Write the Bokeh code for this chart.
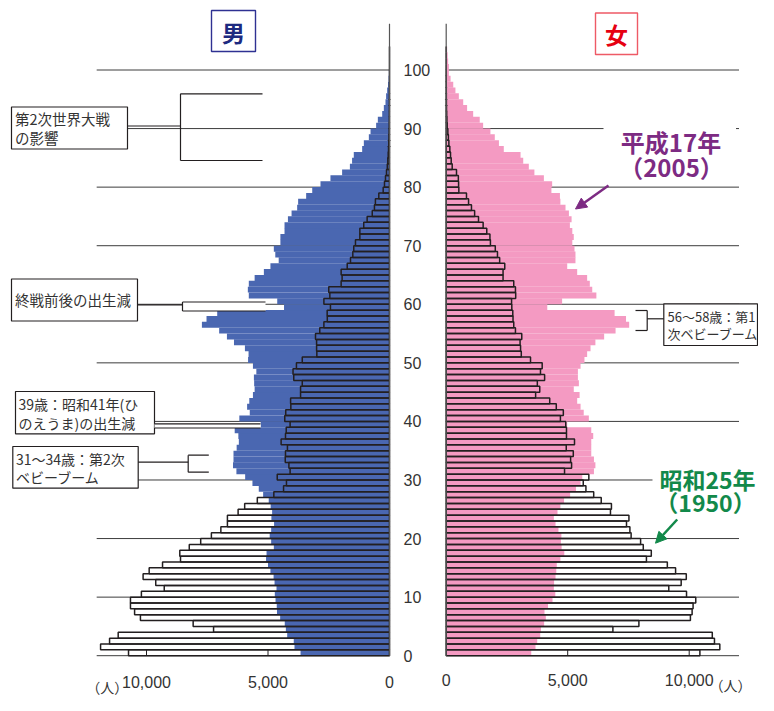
from bokeh.plotting import figure
from bokeh.models import Range1d, ColumnDataSource, Arrow, NormalHead
from bokeh.core.properties import value
from bokeh.embed import file_html
from bokeh.resources import INLINE

# ---------------- data (people by single year of age, 0..103) ----------------
ages = list(range(104))

male_1950 = [10740, 11890, 11520, 11165, 7240, 8080, 10250, 10490, 10660, 10660,
             10210, 9270, 9620, 10140, 9890, 9340, 8600, 8630, 8240, 7770,
             7330, 6940, 6670, 6670, 6230, 5960, 5440, 4760, 4360, 4240,
             4620, 4090, 4140, 4290, 4280, 4200, 4460, 4280, 4250, 4090,
             4310, 4270, 4060, 4070, 3660, 3660, 3590, 3940, 3970, 3830,
             3590, 2990, 3000, 3000, 3045, 2870, 2700, 2560, 2565, 2430,
             2700, 2455, 2500, 1990, 1950, 1990, 1740, 1605, 1510, 1470,
             1400, 1220, 1220, 1060, 920, 710, 620, 580, 440, 260,
             206, 165, 123, 90, 70, 53, 40, 30, 22, 15,
             10, 7, 5, 3, 2, 1, 0, 0, 0, 0,
             0, 0, 0, 0]

male_2005 = [3660, 3910, 3940, 4210, 4265, 4310, 4500, 4630, 4640, 4690,
             4720, 4650, 4730, 4770, 4900, 5000, 5080, 5060, 4760, 4870,
             4930, 4870, 4750, 4860, 4830, 4890, 4970, 5200, 5380, 5640,
             5940, 6300, 6440, 6420, 6420, 6290, 6200, 6220, 6370, 5300,
             6180, 5750, 5860, 5770, 5620, 5550, 5570, 5580, 5480, 5620,
             5820, 5800, 5950, 6400, 6690, 7010, 7720, 7530, 7090, 4340,
             4620, 5790, 5830, 5790, 5550, 5170, 4900, 4560, 4700, 4760,
             4490, 4490, 4320, 4320, 4180, 4030, 3800, 3760, 3430, 3180,
             2840, 2430, 1950, 1630, 1540, 1470, 1125, 1056, 850, 780,
             550, 480, 300, 233, 165, 140, 96, 60, 40, 25,
             12, 0, 0, 0]

female_1950 = [10440, 11260, 11040, 10950, 6860, 7930, 10050, 10120, 10160, 10270,
               9890, 9160, 9670, 9880, 9440, 9100, 8240, 8440, 8110, 8000,
               7610, 7560, 7420, 7520, 6760, 6800, 6380, 6070, 5750, 5640,
               5870, 4870, 5160, 5120, 5230, 4940, 5280, 4950, 4950, 4920,
               4700, 4820, 4530, 4260, 3680, 3850, 3750, 4050, 3880, 3950,
               3470, 3090, 3060, 3040, 3110, 2850, 2780, 2750, 2740, 2700,
               2690, 2860, 2850, 2780, 2340, 2340, 2410, 2200, 2110, 2020,
               1820, 1800, 1670, 1520, 1330, 1170, 1040, 920, 835, 520,
               510, 500, 424, 247, 206, 178, 150, 110, 90, 68,
               41, 30, 20, 12, 8, 5, 3, 2, 1, 1,
               0, 0, 0, 0]

female_2005 = [3500, 3675, 3745, 3870, 3900, 4030, 4100, 4045, 4190, 4375,
               4490, 4430, 4440, 4500, 4530, 4550, 4700, 4860, 4750, 4720,
               4740, 4620, 4500, 4430, 4580, 4700, 4850, 5100, 5340, 5530,
               5600, 6080, 6140, 6080, 5970, 5970, 5970, 6050, 5970, 4980,
               5870, 5660, 5530, 5390, 5490, 5250, 5460, 5420, 5420, 5530,
               5690, 5800, 5940, 6140, 6500, 6970, 7530, 7400, 6930, 4160,
               4770, 6180, 6010, 5910, 5800, 5390, 4980, 5320, 5320, 5280,
               5190, 5250, 5190, 5090, 5160, 5050, 4910, 4700, 4680, 4330,
               4360, 4020, 3630, 3400, 3170, 3060, 2370, 2170, 2000, 1820,
               1520, 1380, 1110, 860, 700, 520, 380, 290, 180, 110,
               110, 80, 60, 40]

x_ticks = [0, 5000, 10000]
x_tick_labels = ["0", "5,000", "10,000"]
age_ticks = [0, 10, 20, 30, 40, 50, 60, 70, 80, 90, 100]
age_tick_labels = [str(a) for a in age_ticks]
x_max = 12050

# ---------------- layout helpers (screen position -> data) ----------------
C, S = 417.35, 0.0243          # centre pixel, pixels per person
Y0, K = 655.2, 5.857           # pixel of age 0, pixels per year
W, H = 758, 695
def X(px):
    return (px - C) / S
def Y(py):
    return (Y0 - py) / K
G = X(445.7)                   # half gap between the two halves

BLUE = "#4A67B1"
PINK = "#F49AC2"
INK = "#231F20"
GRID = "#3C3C3C"
PURPLE = "#7D2B83"
GREEN = "#12894A"
JP = value("Noto Sans CJK JP")
NUM = value("Liberation Sans")

p = figure(width=W, height=H, output_backend="svg", toolbar_location=None,
           x_range=Range1d(X(0), X(W)), y_range=Range1d(Y(H), Y(0)),
           x_axis_type=None, y_axis_type=None, min_border=0)
p.outline_line_color = None
p.background_fill_color = "white"
p.border_fill_color = "white"

# grid lines every 10 years
p.segment(x0=[-G - x_max] * len(age_ticks), x1=[-G] * len(age_ticks), y0=age_ticks, y1=age_ticks,
          line_color=GRID, line_width=1)
p.segment(x0=[G] * len(age_ticks), x1=[G + x_max] * len(age_ticks), y0=age_ticks, y1=age_ticks,
          line_color=GRID, line_width=1)

yc = [a + 0.5 for a in ages]
src = ColumnDataSource(dict(
    y=yc,
    m50l=[-G - v for v in male_1950], m05l=[-G - v for v in male_2005],
    f50r=[G + v for v in female_1950], f05r=[G + v for v in female_2005],
    ml=[-G] * len(ages), fr=[G] * len(ages)))

# 1950 fill (white), then 2005 filled bars, then 1950 outlines on top
p.hbar(y="y", left="m50l", right="ml", height=1, source=src, fill_color="white", line_color=None)
p.hbar(y="y", left="fr", right="f50r", height=1, source=src, fill_color="white", line_color=None)
p.hbar(y="y", left="m05l", right="ml", height=1.02, source=src, fill_color=BLUE, line_color=None)
p.hbar(y="y", left="fr", right="f05r", height=1.02, source=src, fill_color=PINK, line_color=None)
p.hbar(y="y", left="m50l", right="ml", height=1, source=src, fill_alpha=0, line_color=INK, line_width=1.5)
p.hbar(y="y", left="fr", right="f50r", height=1, source=src, fill_alpha=0, line_color=INK, line_width=1.5)

# vertical axes
p.segment(x0=[-G, G], x1=[-G, G], y0=[0, 0], y1=[Y(23.3), Y(23.3)], line_color="#555555", line_width=1.2)
# small inner ticks on the bottom
tk = [t for t in x_ticks if t > 0]
p.segment(x0=[-G - t for t in tk] + [G + t for t in tk], x1=[-G - t for t in tk] + [G + t for t in tk],
          y0=[0] * 4, y1=[1] * 4, line_color=INK, line_width=1)

# tick labels
p.text(x=[-G - t for t in x_ticks], y=[Y(681)] * 3, text=x_tick_labels, text_align="center",
       text_baseline="middle", text_font=NUM, text_font_size=value("16px"), text_color="#333333")
p.text(x=[G + t for t in x_ticks], y=[Y(679.5)] * 3, text=x_tick_labels, text_align="center",
       text_baseline="middle", text_font=NUM, text_font_size=value("16px"), text_color="#333333")
p.text(x=[X(403)] * len(age_ticks), y=age_ticks, text=age_tick_labels, text_align="left",
       text_baseline="middle", text_font=NUM, text_font_size=value("16px"), text_color="#333333")
p.text(x=[X(106.7), X(730)], y=[Y(686), Y(684)], text=["（人）", "（人）"], text_align="center",
       text_baseline="middle", text_font=JP, text_font_size=value("14px"), text_color="#333333")

# title boxes
p.quad(left=[X(211)], right=[X(255)], top=[Y(10)], bottom=[Y(51)], fill_color="white",
       line_color="#2E3192", line_width=1.4)
p.text(x=[X(233)], y=[Y(31)], text=["男"], text_align="center", text_baseline="middle",
       text_font=JP, text_font_style="bold", text_font_size=value("23px"), text_color="#1D2A80")
p.quad(left=[X(595)], right=[X(637)], top=[Y(12.5)], bottom=[Y(54)], fill_color="white",
       line_color="#EE5A66", line_width=1.4)
p.text(x=[X(616)], y=[Y(33)], text=["女"], text_align="center", text_baseline="middle",
       text_font=JP, text_font_style="bold", text_font_size=value("23px"), text_color="#E60012")

# ---------------- annotations ----------------
def box(l, r, t, b):
    p.quad(left=[X(l)], right=[X(r)], top=[Y(t)], bottom=[Y(b)], fill_color="white",
           line_color=INK, line_width=1.2)

def lines(pts):
    p.segment(x0=[X(a[0]) for a in pts], y0=[Y(a[1]) for a in pts],
              x1=[X(a[2]) for a in pts], y1=[Y(a[3]) for a in pts], line_color=INK, line_width=1.2)

def label(px, py, txt, size="14.5px"):
    p.text(x=[X(px)], y=[Y(py)], text=[txt], text_align="left", text_baseline="middle",
           text_font=JP, text_font_size=value(size), text_color="#333333")

# WWII
box(11, 127, 106.5, 148.5)
label(14.5, 118, "第2次世界大戦")
label(14.5, 137, "の影響")
lines([(127, 125.5, 180, 125.5), (180, 93.3, 180, 160), (180, 93.3, 262, 93.3), (180, 160, 262, 160)])

# 終戦前後
box(11, 137, 278.5, 320.5)
label(14.5, 299, "終戦前後の出生減")
p.quad(left=[X(182)], right=[X(265)], top=[Y(301.5)], bottom=[Y(310.5)], fill_color="white", line_color=None)
lines([(137, 304.3, 182, 304.3), (182, 301.5, 265, 301.5), (182, 310.5, 265, 310.5), (182, 301.5, 182, 310.5)])

# ひのえうま
box(15, 154, 391, 433.3)
label(18, 403, "39歳：昭和41年(ひ", "14px")
label(18, 422, "のえうま)の出生減", "14px")
p.quad(left=[X(154)], right=[X(260)], top=[Y(423.3)], bottom=[Y(427.5)], fill_color="white", line_color=None)
lines([(154, 423.3, 260, 423.3), (154, 427.5, 260, 427.5)])

# 第2次ベビーブーム
box(12.3, 137.7, 446, 487.7)
label(15.5, 458, "31～34歳：第2次", "14px")
label(15.5, 476, "ベビーブーム", "14px")
lines([(137.7, 461.7, 187.7, 461.7), (187.7, 454.7, 187.7, 471.7),
       (187.7, 454.7, 208.3, 454.7), (187.7, 471.7, 208.3, 471.7)])

# 第1次ベビーブーム
box(663.3, 757, 303.3, 345)
label(667, 316, "56～58歳：第1", "13px")
label(667, 333, "次ベビーブーム", "13px")
lines([(635, 310, 646.7, 310), (646.7, 310, 646.7, 330), (635, 330, 646.7, 330), (646.7, 318.3, 663.3, 318.3)])

# year labels with white backing
p.quad(left=[X(603), X(652)], right=[X(735.5), X(W)], top=[Y(126.5), Y(465)], bottom=[Y(181), Y(513)],
       fill_color="white", line_color=None)
p.text(x=[X(670.5), X(671)], y=[Y(140.5), Y(165.5)], text=["平成17年", "（2005）"], text_align="center",
       text_baseline="middle", text_font=JP, text_font_style="bold", text_font_size=value("24px"),
       text_color=PURPLE)
p.text(x=[X(707), X(705)], y=[Y(478), Y(501.5)], text=["昭和25年", "（1950）"], text_align="center",
       text_baseline="middle", text_font=JP, text_font_style="bold", text_font_size=value("23px"),
       text_color=GREEN)
p.add_layout(Arrow(end=NormalHead(size=11, fill_color=PURPLE, line_color=PURPLE),
                   x_start=X(608), y_start=Y(185), x_end=X(575), y_end=Y(208.5),
                   line_color=PURPLE, line_width=2.5))
p.add_layout(Arrow(end=NormalHead(size=11, fill_color=GREEN, line_color=GREEN),
                   x_start=X(676.7), y_start=Y(519), x_end=X(655), y_end=Y(542.7),
                   line_color=GREEN, line_width=2.5))

open("out.html", "w").write(file_html(p, INLINE))
